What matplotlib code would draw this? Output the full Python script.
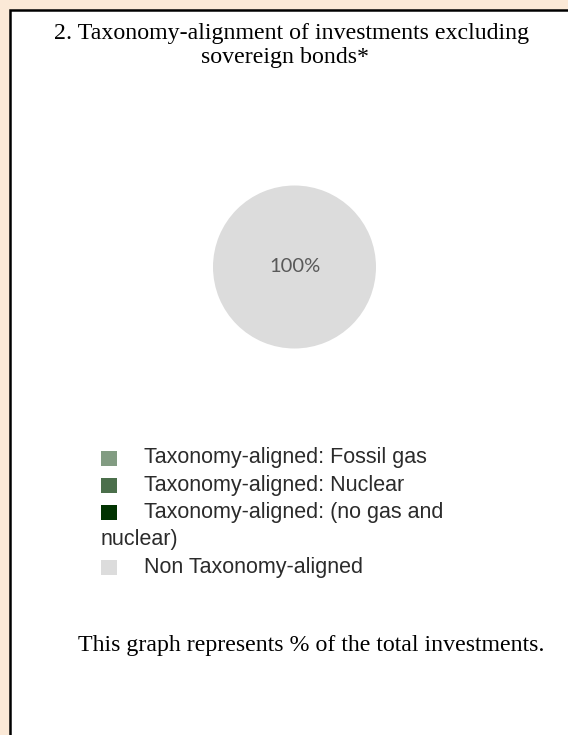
import matplotlib.pyplot as plt
from matplotlib.patches import Rectangle

W, H = 568, 735  # figure size in pixels

# data
categories = ['Taxonomy-aligned: Fossil gas',
              'Taxonomy-aligned: Nuclear',
              'Taxonomy-aligned: (no gas and\nnuclear)',
              'Non Taxonomy-aligned']
values = [0, 0, 0, 100]
colors = ['#829c82', '#4b6f4b', '#013301', '#dcdcdc']

title_lines = ['2. Taxonomy-alignment of investments excluding', 'sovereign bonds*']
footer = 'This graph represents % of the total investments.'


def fx(x):
    return x / W


def fy(y):
    return 1 - y / H


fig = plt.figure(figsize=(W / 100, H / 100), dpi=100)
fig.patch.set_facecolor('#fbe9d7')

# white box with black border, running off the right and bottom edges
fig.add_artist(Rectangle((fx(9.5), fy(H + 20)), fx(W + 20), (H + 20 - 9.5) / H,
                         transform=fig.transFigure, facecolor='white',
                         edgecolor='black', linewidth=1.8, zorder=-5))

# title
fig.text(fx(292), fy(34), title_lines[0], ha='center', va='center',
         fontsize=17.2, family='Liberation Serif')
fig.text(fx(285), fy(58), title_lines[1], ha='center', va='center',
         fontsize=17.2, family='Liberation Serif')

# pie
cx, cy, r = 294.5, 267, 81.5
ax = fig.add_axes([fx(cx - r), fy(cy + r), 2 * r / W, 2 * r / H])
ax.pie(values, colors=colors, startangle=90, counterclock=False,
       autopct=lambda p: f'{p:.0f}%' if p > 0 else '', pctdistance=0,
       wedgeprops={'linewidth': 0},
       textprops={'fontsize': 14.5, 'color': '#595959', 'family': 'Lato'})
ax.set_xlim(-1, 1)
ax.set_ylim(-1, 1)
ax.axis('off')

# legend drawn by hand
sq_x, txt_x, row_y, step = 101, 144, 458, 27.25
sq_w, sq_h = 16, 15
row = 0
for lab, col in zip(categories, colors):
    y = row_y + row * step
    fig.add_artist(Rectangle((fx(sq_x), fy(y + sq_h / 2)), sq_w / W, sq_h / H,
                             transform=fig.transFigure, facecolor=col, linewidth=0))
    parts = lab.split('\n')
    fig.text(fx(txt_x), fy(y), parts[0], ha='left', va='center',
             fontsize=15.5, color='#2b2b2b', family='Liberation Sans')
    for extra in parts[1:]:
        row += 1
        fig.text(fx(sq_x), fy(row_y + row * step), extra, ha='left', va='center',
                 fontsize=15.5, color='#2b2b2b', family='Liberation Sans')
    row += 1

# footer
fig.text(fx(311), fy(646), footer, ha='center', va='center',
         fontsize=17.2, family='Liberation Serif')

fig.savefig('out.png', dpi=100, facecolor=fig.get_facecolor())
